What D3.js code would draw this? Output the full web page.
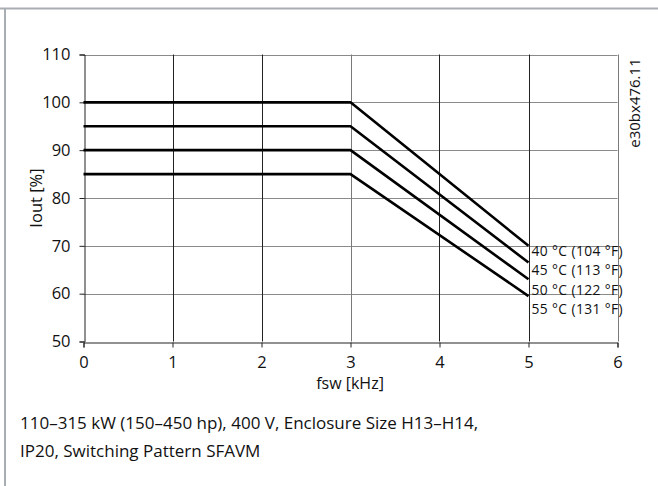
<!DOCTYPE html>
<html><head><meta charset="utf-8">
<script src="https://cdn.jsdelivr.net/npm/d3@7"></script>
<style>body{margin:0;background:#fff}svg{display:block}text{font-family:"Open Sans","Noto Sans",sans-serif;fill:#111}</style>
</head><body><svg id="c" width="658" height="486"></svg>
<script>
const xTicks=[0,1,2,3,4,5,6];
const yTicks=[50,60,70,80,90,100,110];
const fsw=[0,3,5];
const series=[
 {label:"40 °C (104 °F)", values:[100,100,70]},
 {label:"45 °C (113 °F)", values:[95,95,66.5]},
 {label:"50 °C (122 °F)", values:[90,90,63]},
 {label:"55 °C (131 °F)", values:[85,85,59.5]}
];
const labelY=[256,275,295,314];
const caption=["110–315 kW (150–450 hp), 400 V, Enclosure Size H13–H14,","IP20, Switching Pattern SFAVM"];

const svg=d3.select("#c");
// frame
svg.append("line").attr("x1",0).attr("x2",658).attr("y1",8.5).attr("y2",8.5).attr("stroke","#a9aeb3").attr("stroke-width",2);
svg.append("line").attr("x1",5).attr("x2",5).attr("y1",8).attr("y2",486).attr("stroke","#a9aeb3").attr("stroke-width",2);

const x=d3.scaleLinear().domain([0,6]).range([83.5,617.5]);
const y=d3.scaleLinear().domain([50,110]).range([341.5,54.5]);

// gridlines
svg.append("g").selectAll("line").data(yTicks.slice(1)).join("line")
 .attr("x1",x(0)).attr("x2",x(6)).attr("y1",d=>Math.round(y(d))+0.5).attr("y2",d=>Math.round(y(d))+0.5)
 .attr("stroke","#8a8a8a").attr("stroke-width",1);
svg.append("g").selectAll("line").data(xTicks.slice(1)).join("line")
 .attr("y1",y(50)).attr("y2",y(110)).attr("x1",d=>Math.round(x(d))+0.5).attr("x2",d=>Math.round(x(d))+0.5)
 .attr("stroke",d=>d===3||d===6?"#7a7a7a":"#222").attr("stroke-width",1);

// axes
const xa=svg.append("g").attr("transform",`translate(0,${Math.round(y(50))+0.5})`)
 .call(d3.axisBottom(x).tickValues(xTicks).tickSize(5).tickPadding(9).tickFormat(d3.format("d")));
const ya=svg.append("g").attr("transform",`translate(${Math.round(x(0))+0.5},0)`)
 .call(d3.axisLeft(y).tickValues(yTicks).tickSize(5).tickPadding(9).tickFormat(d3.format("d")));
[xa,ya].forEach(a=>{a.attr("font-size",null).attr("font-family",null);
 a.select(".domain").attr("stroke","#222");a.selectAll(".tick line").attr("stroke","#222");
 a.selectAll("text").style("font-size","16.5px").attr("fill","#111");});

// lines
const line=d3.line().x((d,i)=>x(fsw[i])).y(d=>y(d));
svg.append("g").selectAll("path").data(series).join("path")
 .attr("d",d=>line(d.values)).attr("fill","none").attr("stroke","#000").attr("stroke-width",2.6).attr("stroke-linejoin","round");

// labels
svg.append("g").selectAll("text").data(series).join("text")
 .attr("x",x(5)+3).attr("y",(d,i)=>labelY[i]).style("font-size","13.8px").style("letter-spacing","0.4px").text(d=>d.label);

svg.append("text").attr("transform","translate(42,198) rotate(-90)").attr("text-anchor","middle").style("font-size","16.5px").text("Iout  [%]");
svg.append("text").attr("x",350).attr("y",389).attr("text-anchor","middle").style("font-size","16px").text("fsw [kHz]");
svg.append("text").attr("transform","translate(640,103) rotate(-90)").attr("text-anchor","middle").style("font-size","15px").text("e30bx476.11");

svg.append("g").selectAll("text").data(caption).join("text")
 .attr("x",20).attr("y",(d,i)=>429+i*28).style("font-size","17px").text(d=>d);
</script></body></html>
